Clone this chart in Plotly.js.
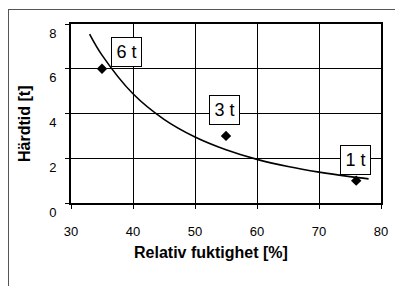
<!DOCTYPE html>
<html>
<head>
<meta charset="utf-8">
<script src="https://cdn.plot.ly/plotly-3.0.1.min.js"></script>
<style>
html,body{margin:0;padding:0;background:#fff;}
#plot{position:absolute;left:0;top:0;width:395px;height:286px;}
#frame{position:absolute;left:8px;top:9px;width:400px;height:300px;border-left:1px solid #555;border-top:1px solid #555;pointer-events:none;}
</style>
</head>
<body>
<div id="plot"></div>
<div id="frame"></div>
<script>
// Measured points
const humidity = [35, 55, 76];
const hardeningTime = [6, 3, 1];
const pointLabels = ['6 t', '3 t', '1 t'];
// Label box positions
const labelX = [38.9, 54.7, 75.9];
const labelY = [6.77, 4.15, 1.94];
// Trend curve
const curveX = [33, 35, 40, 45, 50, 55, 60, 65, 70, 75, 78];
const curveY = [7.55, 6.61, 4.88, 3.74, 2.95, 2.38, 1.95, 1.63, 1.38, 1.18, 1.08];

const xTicks = [30, 40, 50, 60, 70, 80];
const yTicks = [0, 2, 4, 6, 8];

const FONT = 'Arial, "Liberation Sans", sans-serif';

const traces = [
  {
    x: curveX, y: curveY, type: 'scatter', mode: 'lines',
    line: {color: '#000', width: 1.6, shape: 'spline'},
    hoverinfo: 'skip', showlegend: false
  },
  {
    x: humidity, y: hardeningTime, type: 'scatter', mode: 'markers',
    marker: {symbol: 'diamond', size: 8, color: '#000'},
    showlegend: false
  }
];

const annotations = pointLabels.map((t, i) => ({
  x: labelX[i], y: labelY[i], xref: 'x', yref: 'y',
  text: t, showarrow: false,
  font: {family: FONT, size: 18, color: '#000'},
  bgcolor: '#fff', bordercolor: '#000', borderwidth: 1, borderpad: 0,
  width: 29, height: 28, align: 'center', valign: 'middle'
}));

annotations.push({
  x: 0.45, y: -0.278, xref: 'paper', yref: 'paper',
  text: '<b>Relativ fuktighet [%]</b>', showarrow: false,
  xanchor: 'center', yanchor: 'middle',
  font: {family: FONT, size: 16, color: '#000'}
});
annotations.push({
  x: -0.152, y: 0.441, xref: 'paper', yref: 'paper',
  text: '<b>Härdtid [t]</b>', showarrow: false, textangle: -90,
  xanchor: 'center', yanchor: 'middle',
  font: {family: FONT, size: 16, color: '#000'}
});

const layout = {
  width: 395, height: 286,
  margin: {l: 71, r: 14, t: 24, b: 83, pad: 0},
  paper_bgcolor: '#fff', plot_bgcolor: '#fff',
  font: {family: FONT, size: 13, color: '#000'},
  xaxis: {
    range: [30, 80], tickvals: xTicks, ticktext: xTicks.map(String),
    showgrid: true, gridcolor: '#000', gridwidth: 1,
    zeroline: false, showline: true, linecolor: '#000', linewidth: 2, mirror: true,
    ticks: 'outside', ticklen: 4, tickcolor: '#000', tickwidth: 1,
    ticklabelstandoff: 11,
    tickfont: {family: FONT, size: 13, color: '#000'}
  },
  yaxis: {
    range: [0, 8], tickvals: yTicks, ticktext: yTicks.map(String),
    showgrid: true, gridcolor: '#000', gridwidth: 1,
    zeroline: false, showline: true, linecolor: '#000', linewidth: 2, mirror: true,
    ticks: 'outside', ticklen: 4, tickcolor: '#000', tickwidth: 1,
    ticklabelstandoff: 6, ticklabelshift: 9,
    tickfont: {family: FONT, size: 13, color: '#000'}
  },
  annotations: annotations,
  showlegend: false
};

Plotly.newPlot('plot', traces, layout, {displayModeBar: false, staticPlot: true});
</script>
</body>
</html>
